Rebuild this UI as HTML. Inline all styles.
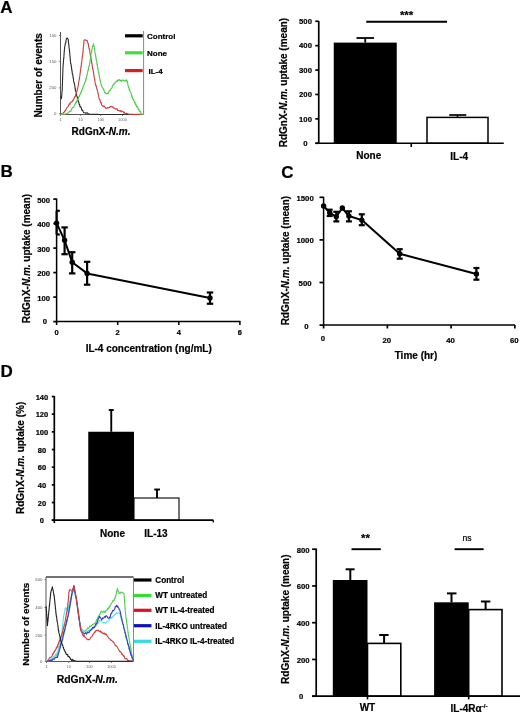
<!DOCTYPE html>
<html><head><meta charset="utf-8"><style>
html,body{margin:0;padding:0;background:#fff;}
body{width:520px;height:713px;overflow:hidden;}
svg{display:block;font-family:"Liberation Sans", sans-serif;filter:blur(0.3px);}
</style></head><body>
<svg width="520" height="713" viewBox="0 0 520 713">
<rect width="520" height="713" fill="#fff"/>
<text stroke="#000" stroke-width="0.2" x="0.2" y="12.8" font-size="17" font-weight="bold" text-anchor="start" fill="#000">A</text>
<text stroke="#000" stroke-width="0.2" x="0.6" y="177.1" font-size="17" font-weight="bold" text-anchor="start" fill="#000">B</text>
<text stroke="#000" stroke-width="0.2" x="281.2" y="177.5" font-size="17" font-weight="bold" text-anchor="start" fill="#000">C</text>
<text stroke="#000" stroke-width="0.2" x="0.6" y="376.8" font-size="17" font-weight="bold" text-anchor="start" fill="#000">D</text>
<line x1="60.5" y1="32" x2="60.5" y2="114.8" stroke="#555" stroke-width="1.0"/>
<line x1="60.5" y1="114.5" x2="143.6" y2="114.5" stroke="#555" stroke-width="1.0"/>
<line x1="143.6" y1="31" x2="143.6" y2="114.8" stroke="#888" stroke-width="1.0"/>
<line x1="58.8" y1="35.5" x2="60.5" y2="35.5" stroke="#666" stroke-width="0.8"/>
<text x="56.5" y="37.0" font-size="4.3" font-weight="normal" text-anchor="end" fill="#555">100</text>
<line x1="58.8" y1="61.4" x2="60.5" y2="61.4" stroke="#666" stroke-width="0.8"/>
<text x="56.5" y="62.9" font-size="4.3" font-weight="normal" text-anchor="end" fill="#555">150</text>
<line x1="58.8" y1="87.9" x2="60.5" y2="87.9" stroke="#666" stroke-width="0.8"/>
<text x="56.5" y="89.4" font-size="4.3" font-weight="normal" text-anchor="end" fill="#555">200</text>
<line x1="58.8" y1="113.8" x2="60.5" y2="113.8" stroke="#666" stroke-width="0.8"/>
<text x="56.5" y="115.3" font-size="4.3" font-weight="normal" text-anchor="end" fill="#555">0</text>
<line x1="60.5" y1="114.5" x2="60.5" y2="116" stroke="#666" stroke-width="0.8"/>
<text x="60.5" y="120.6" font-size="4" font-weight="normal" text-anchor="middle" fill="#666">1</text>
<line x1="80.75" y1="114.5" x2="80.75" y2="116" stroke="#666" stroke-width="0.8"/>
<text x="80.75" y="120.6" font-size="4" font-weight="normal" text-anchor="middle" fill="#666">10</text>
<line x1="100.75" y1="114.5" x2="100.75" y2="116" stroke="#666" stroke-width="0.8"/>
<text x="100.75" y="120.6" font-size="4" font-weight="normal" text-anchor="middle" fill="#666">100</text>
<line x1="122.5" y1="114.5" x2="122.5" y2="116" stroke="#666" stroke-width="0.8"/>
<text x="122.5" y="120.6" font-size="4" font-weight="normal" text-anchor="middle" fill="#666">1000</text>
<polyline points="60.7,96.7 61.0,97.0 61.2,98.6 61.5,98.2 61.5,98.5 61.6,97.5 61.6,96.4 61.7,96.6 61.7,95.1 61.8,95.2 61.8,93.9 61.9,93.4 61.9,93.4 61.9,93.5 62.0,91.6 62.0,91.2 62.1,91.3 62.1,91.3 62.2,90.0 62.2,89.0 62.3,89.5 62.3,87.2 62.3,88.0 62.3,86.4 62.4,85.6 62.4,84.9 62.4,84.7 62.4,85.0 62.4,83.2 62.5,83.3 62.5,82.9 62.5,81.8 62.5,81.5 62.5,80.0 62.6,79.4 62.6,79.1 62.6,79.3 62.6,78.3 62.6,77.5 62.7,77.4 62.7,76.5 62.7,75.6 62.7,75.9 62.7,75.2 62.8,73.7 62.8,73.7 62.8,73.0 62.8,73.1 62.8,72.2 62.9,70.8 62.9,71.5 62.9,69.3 62.9,69.3 62.9,69.3 63.0,67.6 63.0,67.6 63.0,66.2 63.0,66.7 63.1,66.3 63.1,65.3 63.2,65.3 63.2,63.7 63.3,63.8 63.4,63.0 63.4,62.3 63.5,61.5 63.5,61.6 63.5,61.2 63.6,59.8 63.6,59.5 63.7,57.8 63.8,58.4 63.8,57.7 63.9,57.7 63.9,56.8 64.0,55.2 64.0,54.8 64.1,54.7 64.1,52.9 64.2,53.1 64.2,52.0 64.3,51.3 64.3,50.6 64.4,51.3 64.4,49.5 64.5,49.1 64.5,48.8 64.6,49.1 64.6,47.0 64.7,47.1 64.7,46.7 64.8,46.7 65.0,46.0 65.1,45.5 65.2,43.8 65.4,43.4 65.5,42.7 65.7,43.1 65.9,42.5 66.0,40.4 66.2,39.8 66.3,39.2 66.5,38.5 67.3,38.0 67.6,38.8 67.9,38.9 68.2,39.1 68.3,40.5 68.4,41.0 68.4,42.0 68.5,43.3 68.6,43.4 68.7,43.7 68.7,44.5 68.8,45.2 68.9,44.7 69.0,46.9 69.0,47.3 69.1,48.1 69.2,48.5 69.3,48.4 69.3,49.1 69.4,49.1 69.4,50.7 69.5,50.3 69.5,50.9 69.6,51.8 69.7,52.3 69.7,53.3 69.8,53.4 69.8,53.9 69.9,54.8 69.9,55.3 70.0,56.4 70.1,56.4 70.1,58.6 70.2,58.7 70.2,58.5 70.3,59.3 70.3,60.1 70.4,60.8 70.5,60.9 70.6,62.9 70.7,63.8 70.8,63.4 70.9,64.1 71.0,64.0 71.1,64.7 71.2,65.7 71.3,66.2 71.4,67.8 71.5,67.3 71.6,67.6 71.7,69.9 71.8,69.8 71.9,69.7 72.0,71.1 72.1,70.7 72.2,72.3 72.3,73.7 72.4,74.1 72.5,74.4 72.6,74.2 72.8,75.0 72.9,75.2 73.0,76.9 73.1,77.1 73.2,78.1 73.3,77.9 73.4,78.3 73.5,80.0 73.6,80.9 73.7,81.3 73.8,81.8 74.0,82.5 74.1,82.9 74.2,82.6 74.3,83.8 74.4,84.1 74.5,84.2 74.7,84.8 74.8,85.9 74.9,86.4 75.0,87.8 75.1,88.9 75.3,88.6 75.4,90.1 75.5,90.9 75.7,91.4 75.8,91.0 76.0,91.3 76.1,92.0 76.2,92.5 76.4,93.1 76.5,94.5 76.7,95.6 76.8,96.1 77.0,96.1 77.2,97.0 77.3,97.9 77.5,97.2 77.6,98.9 77.8,99.9 78.0,100.3 78.1,100.8 78.3,101.0 78.5,101.0 78.7,102.8 78.9,102.6 79.1,104.0 79.4,105.0 79.6,104.5 79.8,105.2 80.0,106.8 80.2,107.0 80.6,106.7 81.0,107.2 81.3,107.9 81.7,109.9 82.1,110.4 82.5,109.9 83.2,111.8 83.8,112.7 84.5,112.8 85.2,112.9 85.9,113.4 86.6,112.8 87.3,112.8 87.9,113.8 88.6,113.9 89.3,114.1 90.0,114.2 90.6,114.2 91.2,114.2 91.9,114.3 92.5,114.3 93.1,114.3 93.8,114.3 94.4,114.3 95.0,114.3 95.6,114.4 96.2,114.4 96.9,114.4 97.5,114.4 98.1,114.4 98.8,114.5 99.4,114.5 100.0,114.5 100.6,114.5 101.2,114.5 101.8,114.5 102.4,114.5 103.0,114.5 103.6,114.5 104.2,114.5 104.8,114.5 105.5,114.5 106.1,114.5 106.7,114.5 107.3,114.5 107.9,114.5 108.5,114.5 109.1,114.5 109.7,114.5 110.3,114.5 110.9,114.5 111.5,114.5 112.1,114.5 112.7,114.5 113.3,114.5 113.9,114.5 114.5,114.5 115.1,114.5 115.7,114.5 116.4,114.5 117.0,114.5 117.6,114.5 118.2,114.5 118.8,114.5 119.4,114.5 120.0,114.5 120.6,114.5 121.2,114.5 121.8,114.5 122.4,114.5 123.0,114.5 123.6,114.5 124.2,114.5 124.8,114.5 125.4,114.5 126.0,114.5 126.6,114.5 127.3,114.5 127.9,114.5 128.5,114.5 129.1,114.5 129.7,114.5 130.3,114.5 130.9,114.5 131.5,114.5 132.1,114.5 132.7,114.5 133.3,114.5 133.9,114.5 134.5,114.5 135.1,114.5 135.7,114.5 136.3,114.5 136.9,114.5 137.5,114.5 138.2,114.5 138.8,114.5 139.4,114.5 140.0,114.5 140.6,114.5 141.2,114.5 141.8,114.5 142.4,114.5 143.0,114.5" fill="none" stroke="#2a2a2a" stroke-width="1.1" stroke-linejoin="round"/>
<polyline points="60.5,114.5 61.1,114.1 61.8,113.8 62.4,114.2 63.0,113.3 63.6,112.4 64.2,112.4 64.8,110.9 65.4,111.0 65.8,110.3 66.3,108.5 66.7,108.0 67.1,107.4 67.6,106.7 68.0,106.7 68.5,105.4 69.0,105.0 69.4,103.7 69.9,104.4 70.4,102.7 70.9,102.3 71.4,102.0 72.0,101.9 72.5,100.5 73.0,100.8 73.5,99.3 73.9,98.7 74.4,98.1 74.8,96.5 75.3,96.6 75.5,95.5 75.7,94.6 75.8,95.4 76.0,93.6 76.2,93.5 76.4,93.4 76.5,92.5 76.7,91.4 76.9,91.1 77.1,90.6 77.3,90.4 77.4,88.5 77.6,88.7 77.8,87.5 77.9,87.0 78.0,87.3 78.1,86.2 78.2,85.7 78.3,85.4 78.4,85.1 78.5,83.6 78.6,83.3 78.7,82.5 78.8,81.9 78.9,81.6 79.0,80.6 79.1,80.1 79.2,79.4 79.3,79.6 79.4,78.6 79.5,78.3 79.6,77.8 79.7,75.9 79.8,75.9 79.9,75.9 80.0,75.1 80.1,73.3 80.2,72.6 80.3,72.6 80.4,71.3 80.4,71.0 80.5,70.1 80.6,70.6 80.7,70.2 80.7,69.8 80.8,67.8 80.9,68.2 81.0,67.5 81.0,66.0 81.1,66.7 81.2,66.3 81.3,64.3 81.3,65.0 81.4,63.4 81.5,63.0 81.6,63.2 81.7,62.3 81.8,60.5 81.9,60.3 82.0,59.8 82.1,58.9 82.1,58.0 82.2,57.6 82.3,57.7 82.4,55.8 82.5,56.1 82.6,55.2 82.7,53.8 82.8,53.8 82.8,53.7 82.9,52.9 82.9,51.4 83.0,52.5 83.1,51.5 83.1,51.2 83.2,49.0 83.2,48.7 83.3,47.6 83.3,48.4 83.4,46.8 83.5,45.9 83.5,45.8 83.6,46.1 83.6,45.3 83.7,43.7 83.8,42.9 83.8,43.6 83.9,42.4 83.9,42.0 84.0,40.3 84.9,39.7 85.8,40.2 86.4,40.4 87.1,40.3 87.7,42.5 87.8,42.6 88.0,43.5 88.1,42.9 88.3,44.9 88.4,44.1 88.5,46.2 88.7,46.1 88.8,46.5 88.9,47.5 89.1,48.9 89.2,48.3 89.4,48.7 89.5,50.0 89.6,50.1 89.7,50.5 89.8,51.2 89.9,51.6 90.0,52.5 90.1,53.3 90.2,53.9 90.3,55.4 90.5,55.1 90.6,56.1 90.7,56.1 90.8,57.1 90.9,57.1 91.0,58.1 91.1,58.3 91.2,60.2 91.3,60.5 91.4,60.4 91.5,61.6 91.6,63.0 91.7,62.2 91.9,64.1 92.0,64.0 92.1,64.7 92.2,66.0 92.3,65.8 92.4,66.6 92.5,67.6 92.6,68.7 92.8,68.2 92.9,69.7 93.0,70.1 93.1,70.6 93.2,70.8 93.3,71.3 93.4,71.4 93.5,72.2 93.6,72.7 93.7,74.5 93.8,74.2 93.9,74.7 94.0,75.1 94.1,77.1 94.2,77.8 94.3,78.0 94.4,77.9 94.5,78.5 94.6,79.2 94.7,80.1 94.8,80.2 94.9,81.3 95.0,81.6 95.2,83.5 95.3,84.1 95.5,84.0 95.7,84.0 95.8,86.0 96.0,85.4 96.2,86.1 96.3,86.1 96.5,87.4 96.7,88.2 96.8,88.9 97.0,89.0 97.2,90.1 97.3,89.8 97.5,90.9 97.6,91.2 97.8,92.3 97.9,92.3 98.0,92.8 98.2,93.9 98.3,94.4 98.5,95.7 98.6,96.2 98.8,97.2 99.0,97.6 99.2,98.4 99.4,99.4 99.7,99.2 99.9,99.7 100.1,101.5 100.3,100.7 100.5,102.4 100.8,102.9 101.2,102.5 101.5,104.6 101.9,105.3 102.2,105.5 102.8,106.1 103.4,106.7 104.1,105.9 104.7,107.0 105.3,107.4 105.9,108.4 106.5,108.2 107.1,108.1 107.8,107.5 108.4,107.9 109.0,107.3 109.6,107.4 110.2,106.7 110.8,106.4 111.5,106.6 112.1,107.1 112.7,106.7 113.3,108.1 113.9,107.9 114.5,108.4 115.1,108.7 115.8,109.2 116.4,109.2 117.0,108.6 117.6,110.4 118.2,110.6 118.8,110.5 119.4,110.8 120.1,111.2 120.7,110.4 121.3,111.9 121.9,111.3 122.5,111.2 123.2,111.8 123.8,112.9 124.4,112.2 125.0,113.3 125.6,114.0 126.2,113.3 126.9,113.3 127.5,113.7 128.1,113.9 128.7,114.1 129.3,114.3 129.9,114.3 130.5,114.3 131.2,114.3 131.8,114.3 132.4,114.3 133.0,114.4 133.7,114.4 134.3,114.4 134.9,114.4 135.5,114.4 136.2,114.4 136.8,114.4 137.4,114.4 138.0,114.4 138.6,114.4 139.3,114.4 139.9,114.5 140.5,114.5 141.1,114.5 141.8,114.5 142.4,114.5 143.0,114.5" fill="none" stroke="#cc3c3c" stroke-width="1.1" stroke-linejoin="round"/>
<polyline points="60.5,114.5 61.1,114.5 61.8,114.4 62.4,114.4 63.1,114.3 63.7,114.3 64.4,114.2 65.0,114.2 65.6,113.9 66.2,113.6 66.8,113.7 67.4,113.5 68.0,113.0 68.6,112.7 69.2,111.4 69.8,111.3 70.4,111.2 70.8,111.4 71.2,110.0 71.6,109.8 72.0,108.2 72.4,107.6 72.8,107.4 73.3,107.5 73.7,106.9 74.1,106.2 74.5,104.9 74.9,104.7 75.3,103.9 75.6,103.3 75.9,102.1 76.2,102.9 76.5,101.0 76.8,101.8 77.1,101.1 77.4,98.9 77.8,99.1 78.1,99.1 78.4,98.8 78.7,97.2 79.0,96.3 79.3,95.6 79.6,96.3 79.9,94.4 80.2,94.4 80.5,93.0 80.7,93.1 81.0,93.2 81.2,91.1 81.5,91.7 81.7,90.4 82.0,90.5 82.2,89.5 82.5,88.0 82.8,88.6 83.0,87.2 83.3,85.7 83.6,85.0 83.8,85.2 84.1,84.5 84.4,83.6 84.7,82.7 84.9,82.4 85.2,81.7 85.4,82.0 85.5,79.8 85.7,80.5 85.9,80.1 86.0,78.1 86.2,78.9 86.3,77.9 86.5,77.6 86.7,75.9 86.8,75.4 87.0,74.8 87.1,75.3 87.3,73.9 87.4,72.9 87.6,72.4 87.7,71.5 87.9,70.5 88.0,70.0 88.2,70.7 88.3,69.1 88.5,69.6 88.6,67.8 88.8,67.2 88.9,67.0 89.0,65.8 89.1,65.5 89.3,65.9 89.4,65.1 89.5,64.4 89.6,63.4 89.7,63.3 89.8,62.7 90.0,61.4 90.1,61.0 90.2,59.2 90.3,59.8 90.4,58.6 90.5,58.5 90.6,57.7 90.7,56.4 90.8,55.3 90.9,56.2 91.0,54.1 91.1,54.1 91.2,53.2 91.3,52.5 91.4,52.6 91.5,52.4 91.7,50.5 91.8,50.5 92.0,49.2 92.1,49.1 92.2,48.1 92.4,47.1 92.5,46.4 92.8,45.8 93.0,46.3 93.3,44.9 93.6,43.7 93.7,45.6 93.8,46.4 93.9,46.0 94.0,46.1 94.2,46.8 94.3,47.3 94.4,48.4 94.5,48.5 94.6,49.4 94.7,50.1 94.8,51.3 94.9,52.5 95.1,52.9 95.2,52.9 95.3,53.6 95.4,54.4 95.5,54.8 95.6,55.3 95.7,55.4 95.8,56.4 95.9,58.2 96.0,57.3 96.1,58.6 96.2,59.4 96.3,60.5 96.4,59.9 96.5,60.6 96.7,61.1 96.8,62.0 96.9,62.7 97.0,64.2 97.1,64.6 97.2,65.3 97.3,64.3 97.4,65.0 97.5,66.8 97.6,67.7 97.7,67.6 97.8,68.4 98.0,68.0 98.1,69.3 98.2,70.9 98.3,71.3 98.4,72.0 98.5,72.9 98.7,72.2 98.8,72.5 98.9,73.3 99.0,74.5 99.1,75.5 99.3,76.5 99.4,76.8 99.5,77.3 99.6,78.1 99.8,78.2 99.9,78.9 100.0,78.6 100.1,80.6 100.3,80.2 100.4,82.1 100.5,82.2 100.7,82.2 100.8,82.5 100.9,83.3 101.0,84.6 101.2,85.3 101.3,84.9 101.6,85.4 102.0,86.9 102.3,87.6 102.6,87.8 102.9,88.2 103.3,89.4 103.6,89.0 103.9,90.1 104.3,91.0 104.6,92.5 105.2,92.6 105.8,93.6 106.5,93.5 107.1,93.7 107.6,93.1 108.0,93.8 108.5,92.7 108.9,91.4 109.4,90.3 109.9,90.5 110.3,90.2 110.8,89.2 111.2,88.2 111.5,88.3 111.9,88.2 112.3,86.3 112.7,85.3 113.0,85.2 113.4,84.7 113.8,84.6 114.1,83.1 114.5,83.5 115.1,82.9 115.7,82.0 116.3,81.0 117.0,81.8 117.6,80.2 118.2,80.6 118.8,79.6 119.4,79.7 120.1,80.8 120.7,80.0 121.3,81.3 121.9,80.6 122.5,80.0 123.2,80.1 123.8,80.5 124.4,80.9 125.0,81.4 125.7,80.0 126.3,80.4 126.9,80.1 127.1,82.1 127.2,81.2 127.4,81.7 127.6,82.3 127.8,83.5 127.9,85.0 128.1,85.6 128.3,86.0 128.4,87.1 128.6,87.6 128.8,87.1 129.0,87.5 129.1,89.5 129.3,89.7 129.5,89.1 129.8,90.8 130.0,90.9 130.2,91.5 130.5,92.1 130.7,92.4 130.9,92.7 131.2,93.8 131.4,94.5 131.6,96.2 131.8,95.4 132.1,97.5 132.3,96.7 132.5,97.6 132.8,99.1 133.0,99.7 133.3,99.6 133.6,99.5 133.9,100.9 134.2,101.3 134.5,102.9 134.8,102.2 135.2,103.2 135.5,104.7 135.8,103.8 136.1,105.1 136.4,106.4 136.7,107.0 137.1,106.3 137.5,106.9 137.9,107.6 138.4,109.8 138.8,109.2 139.2,110.7 139.6,111.6 140.0,111.2 140.4,111.7 140.9,113.6 141.3,113.6 141.7,114.0 142.3,114.2 143.0,114.3 143.6,114.5" fill="none" stroke="#48cc48" stroke-width="1.1" stroke-linejoin="round"/>
<line x1="125" y1="35.8" x2="142.7" y2="35.8" stroke="#000" stroke-width="3.2"/>
<line x1="125" y1="52.8" x2="142.7" y2="52.8" stroke="#3ee03e" stroke-width="3.2"/>
<line x1="125" y1="70.6" x2="142.7" y2="70.6" stroke="#d81e1e" stroke-width="3.2"/>
<text stroke="#000" stroke-width="0.2" x="147" y="38.8" font-size="8" font-weight="bold" text-anchor="start" fill="#000">Control</text>
<text stroke="#000" stroke-width="0.2" x="147" y="55.8" font-size="8" font-weight="bold" text-anchor="start" fill="#000">None</text>
<text stroke="#000" stroke-width="0.2" x="148.5" y="73.6" font-size="8" font-weight="bold" text-anchor="start" fill="#000">IL-4</text>
<text stroke="#000" stroke-width="0.2" x="38.8" y="75.4" font-size="10" font-weight="bold" text-anchor="middle" transform="rotate(-90 38.8 75.4) translate(0 3.6)">Number of events</text>
<text stroke="#000" stroke-width="0.2" x="101" y="135" font-size="10" font-weight="bold" text-anchor="middle">RdGnX-<tspan font-style="italic">N.m.</tspan></text>
<rect x="333.75" y="42.6" width="63" height="100.65" fill="#000" stroke="none" stroke-width="0"/>
<line x1="365.25" y1="42.6" x2="365.25" y2="38" stroke="#000" stroke-width="1.8"/>
<line x1="356.5" y1="38" x2="374" y2="38" stroke="#000" stroke-width="1.8"/>
<rect x="427" y="117.4" width="61" height="25.849999999999994" fill="#fff" stroke="#000" stroke-width="1.5"/>
<line x1="457.5" y1="117.4" x2="457.5" y2="115" stroke="#000" stroke-width="1.6"/>
<line x1="449.25" y1="115" x2="466.25" y2="115" stroke="#000" stroke-width="1.7"/>
<line x1="318.75" y1="21" x2="318.75" y2="144" stroke="#000" stroke-width="1.7"/>
<line x1="315.3" y1="143.25" x2="503.75" y2="143.25" stroke="#000" stroke-width="1.7"/>
<line x1="315.3" y1="143.25" x2="318.75" y2="143.25" stroke="#000" stroke-width="1.7"/>
<text stroke="#000" stroke-width="0.2" x="305.3" y="145.95" font-size="7.7" font-weight="bold" text-anchor="middle" fill="#000">0</text>
<line x1="315.3" y1="118.85" x2="318.75" y2="118.85" stroke="#000" stroke-width="1.7"/>
<text stroke="#000" stroke-width="0.2" x="305.5" y="121.55" font-size="7.7" font-weight="bold" text-anchor="middle" fill="#000">100</text>
<line x1="315.3" y1="94.45" x2="318.75" y2="94.45" stroke="#000" stroke-width="1.7"/>
<text stroke="#000" stroke-width="0.2" x="305.5" y="97.15" font-size="7.7" font-weight="bold" text-anchor="middle" fill="#000">200</text>
<line x1="315.3" y1="70.05000000000001" x2="318.75" y2="70.05000000000001" stroke="#000" stroke-width="1.7"/>
<text stroke="#000" stroke-width="0.2" x="305.5" y="72.75000000000001" font-size="7.7" font-weight="bold" text-anchor="middle" fill="#000">300</text>
<line x1="315.3" y1="45.650000000000006" x2="318.75" y2="45.650000000000006" stroke="#000" stroke-width="1.7"/>
<text stroke="#000" stroke-width="0.2" x="305.5" y="48.35000000000001" font-size="7.7" font-weight="bold" text-anchor="middle" fill="#000">400</text>
<line x1="315.3" y1="21.25" x2="318.75" y2="21.25" stroke="#000" stroke-width="1.7"/>
<text stroke="#000" stroke-width="0.2" x="305.5" y="23.95" font-size="7.7" font-weight="bold" text-anchor="middle" fill="#000">500</text>
<line x1="411.25" y1="143.25" x2="411.25" y2="147" stroke="#000" stroke-width="1.6"/>
<line x1="366.25" y1="21.7" x2="447" y2="21.7" stroke="#000" stroke-width="1.9"/>
<text stroke="#000" stroke-width="0.2" x="406.6" y="19.0" font-size="11.5" font-weight="bold" text-anchor="middle" fill="#000">***</text>
<text stroke="#000" stroke-width="0.2" x="368.75" y="159.3" font-size="10" font-weight="bold" text-anchor="middle" fill="#000">None</text>
<text stroke="#000" stroke-width="0.2" x="459.2" y="159.5" font-size="10" font-weight="bold" text-anchor="middle" fill="#000">IL-4</text>
<text stroke="#000" stroke-width="0.2" x="287.0" y="82.6" font-size="10" font-weight="bold" text-anchor="middle" transform="rotate(-90 287.0 82.6)">RdGnX-<tspan font-style="italic">N.m.</tspan> uptake (mean)</text>
<line x1="56.6" y1="198.5" x2="56.6" y2="322.3" stroke="#000" stroke-width="1.5"/>
<line x1="55.85" y1="321.6" x2="240.5" y2="321.6" stroke="#000" stroke-width="1.5"/>
<line x1="53.3" y1="321.6" x2="56.6" y2="321.6" stroke="#000" stroke-width="1.7"/>
<text stroke="#000" stroke-width="0.2" x="44.8" y="324.0" font-size="7.7" font-weight="bold" text-anchor="middle" fill="#000">0</text>
<line x1="53.3" y1="297.1" x2="56.6" y2="297.1" stroke="#000" stroke-width="1.7"/>
<text stroke="#000" stroke-width="0.2" x="43.7" y="300.5" font-size="7.7" font-weight="bold" text-anchor="middle" fill="#000">100</text>
<line x1="53.3" y1="272.6" x2="56.6" y2="272.6" stroke="#000" stroke-width="1.7"/>
<text stroke="#000" stroke-width="0.2" x="43.7" y="276.0" font-size="7.7" font-weight="bold" text-anchor="middle" fill="#000">200</text>
<line x1="53.3" y1="248.10000000000002" x2="56.6" y2="248.10000000000002" stroke="#000" stroke-width="1.7"/>
<text stroke="#000" stroke-width="0.2" x="43.7" y="251.50000000000003" font-size="7.7" font-weight="bold" text-anchor="middle" fill="#000">300</text>
<line x1="53.3" y1="223.60000000000002" x2="56.6" y2="223.60000000000002" stroke="#000" stroke-width="1.7"/>
<text stroke="#000" stroke-width="0.2" x="43.7" y="227.00000000000003" font-size="7.7" font-weight="bold" text-anchor="middle" fill="#000">400</text>
<line x1="53.3" y1="199.10000000000002" x2="56.6" y2="199.10000000000002" stroke="#000" stroke-width="1.7"/>
<text stroke="#000" stroke-width="0.2" x="43.7" y="202.50000000000003" font-size="7.7" font-weight="bold" text-anchor="middle" fill="#000">500</text>
<line x1="56.6" y1="321.6" x2="56.6" y2="325" stroke="#000" stroke-width="1.5"/>
<text stroke="#000" stroke-width="0.2" x="56.6" y="335" font-size="7.5" font-weight="bold" text-anchor="middle" fill="#000">0</text>
<line x1="117.7" y1="321.6" x2="117.7" y2="325" stroke="#000" stroke-width="1.5"/>
<text stroke="#000" stroke-width="0.2" x="117.7" y="335" font-size="7.5" font-weight="bold" text-anchor="middle" fill="#000">2</text>
<line x1="178.8" y1="321.6" x2="178.8" y2="325" stroke="#000" stroke-width="1.5"/>
<text stroke="#000" stroke-width="0.2" x="178.8" y="335" font-size="7.5" font-weight="bold" text-anchor="middle" fill="#000">4</text>
<line x1="239.9" y1="321.6" x2="239.9" y2="325" stroke="#000" stroke-width="1.5"/>
<text stroke="#000" stroke-width="0.2" x="239.9" y="335" font-size="7.5" font-weight="bold" text-anchor="middle" fill="#000">6</text>
<polyline points="56.6,223.1 64.6,240.3 72.2,262.3 87.1,273.4 210.0,298.0" fill="none" stroke="#000" stroke-width="2.0" stroke-linejoin="round"/>
<line x1="56.6" y1="210.8" x2="56.6" y2="234.5" stroke="#000" stroke-width="2.2"/>
<line x1="56.1" y1="210.8" x2="59.800000000000004" y2="210.8" stroke="#000" stroke-width="2.2"/>
<line x1="56.1" y1="234.5" x2="59.800000000000004" y2="234.5" stroke="#000" stroke-width="2.2"/>
<circle cx="56.6" cy="223.1" r="2.7" fill="#000"/>
<line x1="64.6" y1="227.4" x2="64.6" y2="254.2" stroke="#000" stroke-width="2.2"/>
<line x1="61.39999999999999" y1="227.4" x2="67.8" y2="227.4" stroke="#000" stroke-width="2.2"/>
<line x1="61.39999999999999" y1="254.2" x2="67.8" y2="254.2" stroke="#000" stroke-width="2.2"/>
<circle cx="64.6" cy="240.3" r="2.7" fill="#000"/>
<line x1="72.2" y1="252.2" x2="72.2" y2="273.4" stroke="#000" stroke-width="2.2"/>
<line x1="69.0" y1="252.2" x2="75.4" y2="252.2" stroke="#000" stroke-width="2.2"/>
<line x1="69.0" y1="273.4" x2="75.4" y2="273.4" stroke="#000" stroke-width="2.2"/>
<circle cx="72.2" cy="262.3" r="2.7" fill="#000"/>
<line x1="87.1" y1="261.8" x2="87.1" y2="284.7" stroke="#000" stroke-width="2.2"/>
<line x1="83.89999999999999" y1="261.8" x2="90.3" y2="261.8" stroke="#000" stroke-width="2.2"/>
<line x1="83.89999999999999" y1="284.7" x2="90.3" y2="284.7" stroke="#000" stroke-width="2.2"/>
<circle cx="87.1" cy="273.4" r="2.7" fill="#000"/>
<line x1="210" y1="292.5" x2="210" y2="303.75" stroke="#000" stroke-width="2.2"/>
<line x1="206.8" y1="292.5" x2="213.2" y2="292.5" stroke="#000" stroke-width="2.2"/>
<line x1="206.8" y1="303.75" x2="213.2" y2="303.75" stroke="#000" stroke-width="2.2"/>
<circle cx="210" cy="298" r="2.7" fill="#000"/>
<text stroke="#000" stroke-width="0.2" x="30.1" y="258.6" font-size="10" font-weight="bold" text-anchor="middle" transform="rotate(-90 30.1 258.6)">RdGnX-<tspan font-style="italic">N.m.</tspan> uptake (mean)</text>
<text stroke="#000" stroke-width="0.2" x="148.7" y="352.3" font-size="10" font-weight="bold" text-anchor="middle" fill="#000">IL-4 concentration (ng/mL)</text>
<line x1="323.6" y1="196.8" x2="323.6" y2="325.8" stroke="#000" stroke-width="1.5"/>
<line x1="322.85" y1="325.1" x2="515" y2="325.1" stroke="#000" stroke-width="1.5"/>
<line x1="319.5" y1="325.1" x2="323.6" y2="325.1" stroke="#000" stroke-width="1.7"/>
<text stroke="#000" stroke-width="0.2" x="306.4" y="328.5" font-size="7.8" font-weight="bold" text-anchor="middle" fill="#000">0</text>
<line x1="319.5" y1="282.5" x2="323.6" y2="282.5" stroke="#000" stroke-width="1.7"/>
<text stroke="#000" stroke-width="0.2" x="305.1" y="285.9" font-size="7.8" font-weight="bold" text-anchor="middle" fill="#000">500</text>
<line x1="319.5" y1="239.90000000000003" x2="323.6" y2="239.90000000000003" stroke="#000" stroke-width="1.7"/>
<text stroke="#000" stroke-width="0.2" x="305.1" y="243.30000000000004" font-size="7.8" font-weight="bold" text-anchor="middle" fill="#000">1000</text>
<line x1="319.5" y1="197.3" x2="323.6" y2="197.3" stroke="#000" stroke-width="1.7"/>
<text stroke="#000" stroke-width="0.2" x="305.1" y="200.70000000000002" font-size="7.8" font-weight="bold" text-anchor="middle" fill="#000">1500</text>
<line x1="323.6" y1="325.1" x2="323.6" y2="328.5" stroke="#000" stroke-width="1.7"/>
<text stroke="#000" stroke-width="0.2" x="322.8" y="341.3" font-size="7.8" font-weight="bold" text-anchor="middle" fill="#000">0</text>
<line x1="387.35" y1="325.1" x2="387.35" y2="328.5" stroke="#000" stroke-width="1.7"/>
<text stroke="#000" stroke-width="0.2" x="386.85" y="343.2" font-size="7.8" font-weight="bold" text-anchor="middle" fill="#000">20</text>
<line x1="451.1" y1="325.1" x2="451.1" y2="328.5" stroke="#000" stroke-width="1.7"/>
<text stroke="#000" stroke-width="0.2" x="450.6" y="343.2" font-size="7.8" font-weight="bold" text-anchor="middle" fill="#000">40</text>
<line x1="514.85" y1="325.1" x2="514.85" y2="328.5" stroke="#000" stroke-width="1.7"/>
<text stroke="#000" stroke-width="0.2" x="514.35" y="343.2" font-size="7.8" font-weight="bold" text-anchor="middle" fill="#000">60</text>
<polyline points="323.6,206.0 329.7,212.7 336.3,216.8 342.3,208.0 348.9,216.0 361.8,220.1 399.7,253.8 476.4,274.0" fill="none" stroke="#000" stroke-width="2.0" stroke-linejoin="round"/>
<circle cx="323.6" cy="206.0" r="2.7" fill="#000"/>
<line x1="329.7" y1="209.7" x2="329.7" y2="216.0" stroke="#000" stroke-width="2.2"/>
<line x1="326.7" y1="209.7" x2="332.7" y2="209.7" stroke="#000" stroke-width="2.2"/>
<line x1="326.7" y1="216.0" x2="332.7" y2="216.0" stroke="#000" stroke-width="2.2"/>
<circle cx="329.7" cy="212.7" r="2.7" fill="#000"/>
<line x1="336.3" y1="211.8" x2="336.3" y2="221.4" stroke="#000" stroke-width="2.2"/>
<line x1="333.3" y1="211.8" x2="339.3" y2="211.8" stroke="#000" stroke-width="2.2"/>
<line x1="333.3" y1="221.4" x2="339.3" y2="221.4" stroke="#000" stroke-width="2.2"/>
<circle cx="336.3" cy="216.8" r="2.7" fill="#000"/>
<circle cx="342.3" cy="208.0" r="2.7" fill="#000"/>
<line x1="348.9" y1="211.3" x2="348.9" y2="221.4" stroke="#000" stroke-width="2.2"/>
<line x1="345.9" y1="211.3" x2="351.9" y2="211.3" stroke="#000" stroke-width="2.2"/>
<line x1="345.9" y1="221.4" x2="351.9" y2="221.4" stroke="#000" stroke-width="2.2"/>
<circle cx="348.9" cy="216" r="2.7" fill="#000"/>
<line x1="361.8" y1="214.3" x2="361.8" y2="225.2" stroke="#000" stroke-width="2.2"/>
<line x1="358.8" y1="214.3" x2="364.8" y2="214.3" stroke="#000" stroke-width="2.2"/>
<line x1="358.8" y1="225.2" x2="364.8" y2="225.2" stroke="#000" stroke-width="2.2"/>
<circle cx="361.8" cy="220.1" r="2.7" fill="#000"/>
<line x1="399.7" y1="249.2" x2="399.7" y2="258.7" stroke="#000" stroke-width="2.2"/>
<line x1="396.7" y1="249.2" x2="402.7" y2="249.2" stroke="#000" stroke-width="2.2"/>
<line x1="396.7" y1="258.7" x2="402.7" y2="258.7" stroke="#000" stroke-width="2.2"/>
<circle cx="399.7" cy="253.8" r="2.7" fill="#000"/>
<line x1="476.4" y1="268" x2="476.4" y2="279.7" stroke="#000" stroke-width="2.2"/>
<line x1="473.4" y1="268" x2="479.4" y2="268" stroke="#000" stroke-width="2.2"/>
<line x1="473.4" y1="279.7" x2="479.4" y2="279.7" stroke="#000" stroke-width="2.2"/>
<circle cx="476.4" cy="274" r="2.7" fill="#000"/>
<text stroke="#000" stroke-width="0.2" x="288.7" y="260.6" font-size="10" font-weight="bold" text-anchor="middle" transform="rotate(-90 288.7 260.6)">RdGnX-<tspan font-style="italic">N.m.</tspan> uptake (mean)</text>
<text stroke="#000" stroke-width="0.2" x="416" y="359.2" font-size="10" font-weight="bold" text-anchor="middle" fill="#000">Time (hr)</text>
<rect x="88.25" y="431.75" width="45.75" height="88.45000000000005" fill="#000" stroke="none" stroke-width="0"/>
<line x1="111.25" y1="431.75" x2="111.25" y2="410" stroke="#000" stroke-width="1.9"/>
<line x1="108.75" y1="410" x2="113.75" y2="410" stroke="#000" stroke-width="1.9"/>
<rect x="134" y="498" width="45" height="22.200000000000045" fill="#fff" stroke="#000" stroke-width="1.1"/>
<line x1="157" y1="498" x2="157" y2="489.5" stroke="#000" stroke-width="1.9"/>
<line x1="154.25" y1="489.5" x2="160" y2="489.5" stroke="#000" stroke-width="1.9"/>
<line x1="54.3" y1="396" x2="54.3" y2="523" stroke="#000" stroke-width="1.7"/>
<line x1="51.8" y1="520.2" x2="213.3" y2="520.2" stroke="#000" stroke-width="1.7"/>
<line x1="213.3" y1="520.2" x2="213.3" y2="522.6" stroke="#000" stroke-width="1.3"/>
<line x1="51.8" y1="520.2" x2="54.3" y2="520.2" stroke="#000" stroke-width="1.7"/>
<text stroke="#000" stroke-width="0.2" x="41.9" y="523.4000000000001" font-size="7.5" font-weight="bold" text-anchor="middle" fill="#000">0</text>
<line x1="51.8" y1="502.53000000000003" x2="54.3" y2="502.53000000000003" stroke="#000" stroke-width="1.7"/>
<text stroke="#000" stroke-width="0.2" x="41.9" y="505.73" font-size="7.5" font-weight="bold" text-anchor="middle" fill="#000">20</text>
<line x1="51.8" y1="484.86" x2="54.3" y2="484.86" stroke="#000" stroke-width="1.7"/>
<text stroke="#000" stroke-width="0.2" x="41.9" y="488.06" font-size="7.5" font-weight="bold" text-anchor="middle" fill="#000">40</text>
<line x1="51.8" y1="467.19000000000005" x2="54.3" y2="467.19000000000005" stroke="#000" stroke-width="1.7"/>
<text stroke="#000" stroke-width="0.2" x="41.9" y="470.39000000000004" font-size="7.5" font-weight="bold" text-anchor="middle" fill="#000">60</text>
<line x1="51.8" y1="449.52000000000004" x2="54.3" y2="449.52000000000004" stroke="#000" stroke-width="1.7"/>
<text stroke="#000" stroke-width="0.2" x="41.9" y="452.72" font-size="7.5" font-weight="bold" text-anchor="middle" fill="#000">80</text>
<line x1="51.8" y1="431.85" x2="54.3" y2="431.85" stroke="#000" stroke-width="1.7"/>
<text stroke="#000" stroke-width="0.2" x="41.9" y="435.05" font-size="7.5" font-weight="bold" text-anchor="middle" fill="#000">100</text>
<line x1="51.8" y1="414.18000000000006" x2="54.3" y2="414.18000000000006" stroke="#000" stroke-width="1.7"/>
<text stroke="#000" stroke-width="0.2" x="41.9" y="417.38000000000005" font-size="7.5" font-weight="bold" text-anchor="middle" fill="#000">120</text>
<line x1="51.8" y1="396.51000000000005" x2="54.3" y2="396.51000000000005" stroke="#000" stroke-width="1.7"/>
<text stroke="#000" stroke-width="0.2" x="41.9" y="399.71000000000004" font-size="7.5" font-weight="bold" text-anchor="middle" fill="#000">140</text>
<text stroke="#000" stroke-width="0.2" x="112.5" y="536.8" font-size="10" font-weight="bold" text-anchor="middle" fill="#000">None</text>
<text stroke="#000" stroke-width="0.2" x="156" y="536.8" font-size="10" font-weight="bold" text-anchor="middle" fill="#000">IL-13</text>
<text stroke="#000" stroke-width="0.2" x="24.0" y="457.9" font-size="10" font-weight="bold" text-anchor="middle" transform="rotate(-90 24.0 457.9)">RdGnX-<tspan font-style="italic">N.m.</tspan> uptake (%)</text>
<line x1="46" y1="577" x2="133.5" y2="577" stroke="#444" stroke-width="1.5"/>
<line x1="46" y1="577" x2="46" y2="661.5" stroke="#555" stroke-width="1.0"/>
<line x1="46" y1="661.5" x2="133.5" y2="661.5" stroke="#555" stroke-width="1.0"/>
<line x1="133.5" y1="577" x2="133.5" y2="661.5" stroke="#888" stroke-width="1.0"/>
<line x1="44.5" y1="579.5" x2="46" y2="579.5" stroke="#666" stroke-width="0.8"/>
<text x="42.5" y="581.0" font-size="4.3" font-weight="normal" text-anchor="end" fill="#555">600</text>
<line x1="44.5" y1="607.5" x2="46" y2="607.5" stroke="#666" stroke-width="0.8"/>
<text x="42.5" y="609.0" font-size="4.3" font-weight="normal" text-anchor="end" fill="#555">400</text>
<line x1="44.5" y1="635" x2="46" y2="635" stroke="#666" stroke-width="0.8"/>
<text x="42.5" y="636.5" font-size="4.3" font-weight="normal" text-anchor="end" fill="#555">200</text>
<line x1="44.5" y1="661.5" x2="46" y2="661.5" stroke="#666" stroke-width="0.8"/>
<text x="42.5" y="663.0" font-size="4.3" font-weight="normal" text-anchor="end" fill="#555">0</text>
<line x1="46.5" y1="661.5" x2="46.5" y2="663" stroke="#666" stroke-width="0.8"/>
<text x="46.5" y="667.6" font-size="4" font-weight="normal" text-anchor="middle" fill="#666">1</text>
<line x1="68.75" y1="661.5" x2="68.75" y2="663" stroke="#666" stroke-width="0.8"/>
<text x="68.75" y="667.6" font-size="4" font-weight="normal" text-anchor="middle" fill="#666">10</text>
<line x1="89.5" y1="661.5" x2="89.5" y2="663" stroke="#666" stroke-width="0.8"/>
<text x="89.5" y="667.6" font-size="4" font-weight="normal" text-anchor="middle" fill="#666">100</text>
<line x1="111.5" y1="661.5" x2="111.5" y2="663" stroke="#666" stroke-width="0.8"/>
<text x="111.5" y="667.6" font-size="4" font-weight="normal" text-anchor="middle" fill="#666">1000</text>
<polyline points="47.0,661.2 47.6,661.1 48.2,660.9 48.9,660.8 49.5,660.6 50.1,660.5 50.8,659.9 51.4,660.5 52.0,659.7 52.6,659.0 53.2,658.0 53.8,658.8 54.4,658.5 55.1,657.5 55.7,657.5 56.3,655.3 56.9,655.1 57.5,655.0 57.7,655.2 57.9,654.6 58.1,653.0 58.3,652.1 58.5,651.8 58.7,651.3 58.9,651.5 59.1,649.6 59.3,650.1 59.5,649.3 59.7,648.9 60.0,648.2 60.2,647.3 60.4,646.2 60.6,645.5 60.8,645.0 61.0,645.2 61.2,643.3 61.4,642.9 61.6,643.3 61.8,641.8 62.0,640.8 62.2,640.2 62.3,640.5 62.5,639.5 62.6,640.0 62.8,639.3 62.9,638.8 63.1,636.9 63.2,636.0 63.4,635.4 63.5,635.5 63.7,635.3 63.8,634.2 64.0,633.2 64.1,632.9 64.3,632.7 64.4,632.2 64.6,631.7 64.7,631.3 64.9,630.3 65.0,628.8 65.2,629.4 65.3,627.8 65.5,627.7 65.6,626.8 65.7,626.8 65.9,625.3 66.0,624.7 66.1,624.1 66.3,623.4 66.4,624.1 66.6,622.9 66.7,621.9 66.8,621.4 67.0,621.9 67.1,620.4 67.2,619.3 67.4,619.8 67.5,618.9 67.6,618.9 67.8,616.7 67.9,616.8 68.0,616.8 68.2,616.2 68.3,615.7 68.5,613.6 68.6,613.4 68.7,612.5 68.9,612.0 69.0,612.9 69.1,611.5 69.2,611.5 69.3,609.9 69.4,610.2 69.5,608.8 69.6,607.9 69.7,608.2 69.8,607.9 69.9,605.8 70.0,606.0 70.1,605.4 70.2,604.1 70.3,603.8 70.5,602.7 70.6,602.2 70.7,601.7 70.8,601.7 70.9,601.2 71.0,599.8 71.1,598.8 71.2,598.8 71.3,598.8 71.4,597.3 71.5,596.9 71.6,596.1 71.7,596.5 71.9,595.5 72.0,594.0 72.2,593.4 72.3,593.3 72.5,593.0 72.6,592.6 72.8,591.0 72.9,590.5 73.1,590.8 73.2,589.7 73.4,588.8 73.5,588.3 73.7,588.8 73.8,588.3 74.0,589.3 74.1,589.5 74.2,590.2 74.4,591.7 74.5,592.5 74.6,592.0 74.8,592.3 74.9,593.8 75.1,593.5 75.2,593.7 75.3,595.9 75.5,595.7 75.6,597.0 75.7,596.8 75.9,598.3 76.0,598.1 76.1,598.2 76.3,598.5 76.4,600.1 76.5,600.9 76.6,602.0 76.7,601.1 76.7,602.7 76.8,602.8 76.9,603.7 77.0,603.7 77.1,604.5 77.2,605.6 77.3,606.9 77.4,606.0 77.4,607.3 77.5,608.5 77.6,609.4 77.7,608.6 77.8,609.1 77.9,611.2 78.0,611.9 78.1,611.6 78.1,611.5 78.2,613.6 78.3,613.3 78.4,614.8 78.5,614.9 78.6,615.9 78.7,615.3 78.8,617.1 78.8,616.7 78.9,617.6 79.0,619.0 79.1,619.6 79.2,619.1 79.3,619.7 79.5,620.7 79.6,621.5 79.7,621.9 79.8,622.1 80.0,622.9 80.1,624.4 80.2,625.3 80.3,624.4 80.5,626.0 80.6,627.0 80.7,626.3 80.8,628.4 81.0,627.7 81.1,629.2 81.8,629.6 82.5,630.2 83.1,630.2 83.8,630.9 84.5,631.6 85.2,630.8 85.8,630.6 86.5,629.7 87.2,629.1 87.8,627.7 88.5,628.2 89.1,627.3 89.8,626.1 90.4,626.4 91.1,626.1 91.7,625.3 92.4,624.5 93.1,624.7 93.8,623.8 94.4,623.5 95.1,623.8 95.4,622.5 95.7,622.6 95.9,622.1 96.2,620.6 96.5,621.1 96.8,619.4 97.1,620.0 97.4,619.5 97.7,618.4 97.9,616.9 98.2,617.1 98.5,616.3 98.8,616.6 99.2,614.5 99.5,615.1 99.8,614.7 100.2,613.5 100.5,613.0 100.9,611.2 101.2,612.0 101.9,611.2 102.5,612.2 103.2,612.2 103.9,611.0 104.5,612.2 105.2,612.6 105.8,610.3 106.4,610.2 107.0,610.2 107.5,608.4 108.1,609.1 108.7,607.3 109.3,607.6 109.7,605.8 110.1,605.8 110.5,606.0 110.9,604.1 111.3,603.6 111.7,603.4 112.1,602.5 112.5,601.4 112.9,601.0 113.3,600.4 113.7,601.1 114.1,600.0 114.5,599.7 114.9,597.7 115.3,598.1 115.4,596.3 115.6,596.4 115.7,596.0 115.9,594.8 116.0,595.1 116.2,593.9 116.3,593.3 116.4,593.3 116.6,591.2 116.7,592.2 116.9,590.9 117.0,589.9 117.2,590.0 117.3,588.4 117.6,590.3 117.8,590.1 118.1,590.3 118.3,591.7 118.6,591.7 118.9,591.8 119.1,593.4 119.4,592.8 120.1,593.7 120.8,592.1 121.4,592.3 122.1,592.4 122.5,592.3 122.9,593.2 123.3,593.2 123.7,593.3 124.1,594.1 124.1,594.9 124.2,596.3 124.2,596.6 124.3,597.3 124.3,598.6 124.4,597.9 124.4,598.6 124.5,600.0 124.5,599.5 124.5,600.0 124.6,601.3 124.6,601.4 124.7,602.5 124.7,602.9 124.8,604.1 124.8,604.7 124.9,604.6 124.9,606.0 125.0,606.3 125.0,606.3 125.0,608.4 125.1,607.7 125.1,608.1 125.2,608.7 125.2,610.2 125.3,611.3 125.3,611.7 125.4,611.6 125.4,612.0 125.5,612.1 125.6,613.9 125.6,614.3 125.7,614.6 125.8,615.7 125.9,616.0 126.0,617.5 126.1,617.7 126.1,617.5 126.2,619.2 126.3,618.3 126.4,619.8 126.5,620.2 126.5,620.5 126.6,620.8 126.7,622.7 126.8,621.9 126.9,623.5 127.0,624.8 127.0,624.0 127.1,624.7 127.2,626.1 127.3,626.5 127.4,627.3 127.4,628.3 127.5,627.7 127.6,628.6 127.7,629.2 127.8,629.3 127.9,631.5 127.9,631.9 128.0,632.4 128.1,631.7 128.2,633.8 128.3,634.3 128.4,634.4 128.5,635.5 128.6,635.6 128.7,635.8 128.8,636.2 128.9,637.0 129.0,637.3 129.1,638.5 129.2,639.8 129.3,640.3 129.4,641.2 129.5,641.6 129.6,641.4 129.7,642.5 129.9,642.9 130.0,644.2 130.1,644.3 130.2,644.5 130.3,645.8 130.4,647.0 130.5,646.2 130.6,648.0 130.7,647.1 130.8,648.2 130.9,648.7 131.0,650.3 131.1,651.2 131.2,651.5 131.3,651.4 131.4,653.0 131.5,652.6 131.6,653.0 131.8,654.9 131.9,655.0 132.1,655.7 132.2,656.3 132.3,657.5 132.5,657.2 132.6,658.4 132.8,658.8 132.9,659.7 133.1,659.6 133.2,660.3" fill="none" stroke="#4ad04a" stroke-width="1.1" stroke-linejoin="round"/>
<polyline points="47.0,661.2 47.6,660.9 48.2,660.7 48.9,660.8 49.5,660.2 50.1,659.5 50.8,659.0 51.4,659.5 52.0,658.2 52.5,659.1 53.1,657.1 53.6,656.3 54.2,655.9 54.8,656.7 55.3,655.1 55.9,654.1 56.4,653.3 57.0,652.7 57.5,653.2 57.6,652.5 57.8,652.0 57.9,651.5 58.0,649.7 58.2,650.0 58.3,649.0 58.4,649.2 58.6,648.6 58.7,648.1 58.8,646.0 59.0,646.9 59.1,646.3 59.2,645.8 59.4,643.7 59.5,643.2 59.6,642.4 59.7,641.7 59.9,642.6 60.0,641.9 60.1,640.9 60.3,640.7 60.4,639.7 60.5,638.5 60.7,637.5 60.8,636.9 60.9,637.5 61.1,635.9 61.2,635.5 61.3,635.1 61.5,633.7 61.6,633.6 61.7,633.0 61.7,633.2 61.8,632.0 61.9,631.3 61.9,631.8 62.0,630.4 62.1,630.4 62.2,629.4 62.2,627.7 62.3,627.8 62.4,627.2 62.4,627.3 62.5,625.9 62.6,625.9 62.6,625.0 62.7,623.8 62.8,624.4 62.8,622.4 62.9,623.1 63.0,621.3 63.0,620.4 63.1,620.2 63.2,620.6 63.3,620.4 63.3,618.0 63.4,618.3 63.5,617.7 63.5,617.6 63.6,615.9 63.7,615.9 63.9,615.0 64.0,615.2 64.1,613.5 64.3,614.1 64.4,612.3 64.5,611.6 64.7,611.8 64.8,610.8 64.9,609.5 65.1,609.8 65.2,608.1 65.3,608.8 65.5,608.0 65.6,607.5 65.9,607.9 66.3,608.1 66.6,608.8 66.9,609.5 67.3,611.0 67.6,610.3 67.7,611.1 67.9,608.9 68.0,608.7 68.1,608.2 68.3,608.7 68.4,607.4 68.5,606.6 68.7,606.9 68.8,605.1 68.9,604.9 69.1,604.5 69.2,604.3 69.4,603.7 69.5,602.9 69.6,601.7 69.8,601.1 69.9,600.2 70.0,600.8 70.2,599.9 70.3,599.4 70.5,597.8 70.7,597.7 70.8,597.7 71.0,596.7 71.2,595.3 71.4,595.3 71.6,595.5 71.7,593.7 71.9,593.0 72.1,592.6 72.3,592.7 72.4,592.4 72.6,590.5 72.8,589.9 73.0,589.5 73.2,589.0 73.3,588.8 73.5,587.5 73.7,587.2 73.8,587.6 74.0,589.6 74.1,589.8 74.2,589.3 74.4,591.5 74.5,590.5 74.6,591.7 74.8,593.4 74.9,593.7 75.1,594.2 75.2,594.3 75.3,594.5 75.5,595.9 75.6,595.5 75.7,596.3 75.9,597.3 76.0,597.3 76.1,598.6 76.3,599.9 76.4,600.3 76.5,600.6 76.6,601.5 76.7,601.8 76.7,601.8 76.8,603.3 76.9,603.5 77.0,604.7 77.1,605.6 77.2,605.4 77.3,606.3 77.4,607.2 77.4,607.2 77.5,607.5 77.6,609.0 77.7,609.9 77.8,610.3 77.9,610.8 78.0,611.7 78.1,612.0 78.1,612.5 78.2,612.8 78.3,613.1 78.4,614.3 78.5,614.0 78.6,615.2 78.7,616.4 78.8,616.9 78.8,617.4 78.9,617.3 79.0,618.2 79.1,618.9 79.2,619.8 79.3,620.1 79.5,621.2 79.6,622.3 79.7,621.6 79.8,623.0 80.0,623.9 80.1,623.8 80.2,624.6 80.3,626.1 80.5,625.0 80.6,626.6 80.7,626.5 80.8,628.3 81.0,629.2 81.1,629.0 81.8,628.9 82.5,630.3 83.1,630.9 83.8,631.8 84.5,632.0 85.2,632.1 85.8,632.3 86.5,631.5 87.2,631.2 87.8,632.0 88.5,630.5 89.2,630.8 89.9,629.8 90.5,630.0 91.2,628.3 91.9,629.4 92.6,627.7 93.2,627.0 93.8,627.2 94.5,627.3 95.1,626.4 95.5,626.5 96.0,625.9 96.4,625.8 96.8,624.6 97.2,623.8 97.7,623.1 98.1,623.4 98.5,623.1 98.9,621.8 99.4,620.6 99.8,621.0 100.4,620.6 101.0,620.6 101.6,620.7 102.2,622.2 102.8,622.6 103.4,622.5 104.0,622.5 104.6,623.0 105.2,622.7 105.9,623.4 106.5,621.8 107.2,621.7 107.9,621.4 108.6,620.8 109.2,619.6 109.9,618.7 110.6,618.6 111.2,617.3 111.8,618.1 112.4,616.8 113.0,617.2 113.6,615.6 114.3,615.3 114.9,614.6 115.5,614.4 116.1,613.5 116.7,612.7 117.3,613.5 118.0,612.9 118.7,613.0 119.3,613.3 120.0,613.8 120.2,614.3 120.3,615.3 120.5,615.9 120.7,616.0 120.9,617.7 121.0,618.1 121.2,617.3 121.4,619.3 121.5,620.1 121.7,620.5 121.9,619.9 122.0,621.8 122.2,622.1 122.4,621.6 122.6,622.2 122.7,624.5 122.9,624.6 123.1,624.5 123.2,624.8 123.4,625.5 123.6,626.3 123.8,627.9 123.9,627.7 124.1,628.0 124.3,630.0 124.4,630.4 124.6,629.9 124.7,631.8 124.9,631.9 125.0,632.8 125.2,633.3 125.3,634.3 125.5,634.7 125.6,635.4 125.8,634.9 125.9,636.4 126.1,636.8 126.3,637.8 126.4,637.8 126.6,639.3 126.7,639.3 126.9,639.4 127.0,640.0 127.2,640.4 127.3,641.7 127.5,641.5 127.6,642.9 127.8,642.9 127.9,644.2 128.1,644.8 128.3,645.5 128.5,646.7 128.7,645.8 128.8,647.9 129.0,647.8 129.2,648.6 129.4,649.4 129.6,650.3 129.8,650.1 130.0,650.8 130.1,652.4 130.3,651.4 130.5,653.0 130.7,653.6 130.9,653.2 131.1,654.8 131.3,655.6 131.5,656.6 131.6,656.2 131.8,657.9 132.0,657.7 132.2,658.3 132.5,659.7 132.8,658.8 133.0,660.7 133.3,661.0" fill="none" stroke="#5fe0e8" stroke-width="1.1" stroke-linejoin="round"/>
<polyline points="47.0,661.2 47.6,661.1 48.2,660.9 48.9,660.8 49.5,660.6 50.1,660.5 50.8,660.5 51.4,659.9 52.0,660.7 52.6,659.4 53.2,659.3 53.8,659.0 54.4,659.1 55.1,657.8 55.7,657.8 56.3,657.4 56.9,657.3 57.5,657.5 57.7,655.9 57.8,656.3 58.0,654.9 58.1,654.5 58.3,653.5 58.5,653.3 58.6,653.5 58.8,652.4 59.0,652.0 59.1,650.6 59.3,649.9 59.4,649.3 59.6,649.2 59.8,648.7 59.9,648.4 60.1,646.4 60.3,647.0 60.4,646.7 60.6,645.5 60.7,644.0 60.9,643.9 61.1,642.7 61.2,642.5 61.4,643.2 61.6,642.0 61.7,641.5 61.9,641.1 62.0,640.7 62.2,639.6 62.4,639.0 62.5,638.4 62.7,637.9 62.8,637.1 63.0,636.7 63.1,635.2 63.3,635.4 63.4,634.4 63.6,634.4 63.7,632.5 63.9,632.1 64.1,631.2 64.2,631.9 64.4,631.6 64.5,630.5 64.7,629.3 64.8,629.5 65.0,628.9 65.1,627.9 65.3,626.7 65.4,626.2 65.6,625.8 65.7,625.0 65.9,624.5 66.0,624.3 66.2,624.2 66.3,622.0 66.4,622.3 66.6,620.8 66.7,620.3 66.9,620.9 67.0,619.9 67.2,619.9 67.3,618.4 67.4,617.0 67.6,617.1 67.7,616.8 67.9,616.8 68.0,616.3 68.2,614.8 68.3,614.0 68.4,612.9 68.6,613.2 68.7,611.8 68.9,611.1 69.0,610.2 69.1,609.6 69.2,610.2 69.3,608.6 69.4,609.5 69.5,607.4 69.6,608.2 69.7,606.2 69.8,605.4 69.9,606.1 70.0,604.6 70.1,604.9 70.2,603.3 70.3,602.5 70.4,603.2 70.5,602.5 70.6,602.1 70.7,601.3 70.8,599.6 70.9,599.9 71.0,599.5 71.1,598.4 71.2,598.7 71.3,596.9 71.4,597.5 71.5,596.5 71.6,594.6 71.7,594.0 71.8,594.5 72.0,594.2 72.1,592.3 72.3,592.1 72.4,592.2 72.6,590.6 72.7,591.2 72.8,589.9 73.0,588.5 73.1,588.4 73.3,588.2 73.4,587.3 73.6,587.1 73.7,585.6 73.8,587.3 74.0,587.2 74.1,588.3 74.2,588.9 74.3,589.1 74.5,589.7 74.6,591.0 74.7,591.9 74.9,592.2 75.0,592.4 75.1,592.5 75.2,592.7 75.4,595.0 75.5,595.1 75.6,595.9 75.8,595.7 75.9,596.8 76.0,598.0 76.1,598.4 76.3,598.6 76.4,598.7 76.5,599.5 76.6,600.9 76.6,600.6 76.7,601.8 76.8,602.2 76.9,603.4 77.0,603.8 77.1,603.5 77.1,603.6 77.2,604.7 77.3,605.6 77.4,606.5 77.5,607.5 77.5,608.3 77.6,607.4 77.7,609.4 77.8,610.0 77.9,610.7 78.0,610.8 78.0,610.8 78.1,612.5 78.2,613.0 78.3,613.4 78.4,614.4 78.4,614.0 78.5,614.2 78.6,615.6 78.7,616.7 78.8,616.2 78.9,617.8 78.9,618.8 79.0,618.1 79.1,619.4 79.2,620.1 79.3,620.3 79.4,620.5 79.5,621.2 79.6,622.7 79.7,623.4 79.8,623.4 79.9,623.3 80.0,625.2 80.1,625.7 80.2,625.4 80.3,626.6 80.4,627.8 80.5,628.4 80.6,628.3 80.7,628.8 80.8,629.6 80.9,629.5 81.0,630.1 81.1,630.7 81.8,632.2 82.5,632.1 83.1,633.0 83.8,633.3 84.5,634.0 85.2,633.1 85.8,632.7 86.5,634.2 87.2,632.8 87.8,632.1 88.5,632.8 89.2,632.5 89.9,630.6 90.5,630.8 91.2,629.7 91.9,629.3 92.6,627.7 93.2,627.1 93.8,628.1 94.5,627.2 95.1,625.9 95.4,625.4 95.7,624.2 96.0,624.5 96.4,623.3 96.7,623.6 97.0,622.6 97.3,622.1 97.6,621.7 97.9,619.8 98.2,618.8 98.5,618.5 98.9,617.8 99.2,617.0 99.5,616.3 99.8,616.6 100.3,617.8 100.8,617.8 101.3,619.3 101.8,619.9 102.5,617.9 103.2,618.4 103.9,617.6 104.5,616.6 105.2,617.6 105.9,615.8 106.6,615.9 107.3,616.7 107.9,618.0 108.6,618.1 109.3,618.3 109.5,617.8 109.8,616.7 110.0,617.5 110.3,616.9 110.5,615.0 110.8,614.0 111.0,613.8 111.3,613.4 111.5,613.7 111.8,613.1 112.0,612.4 112.7,610.3 113.3,610.9 114.0,610.1 114.4,609.3 114.8,609.2 115.2,606.9 115.5,606.4 115.9,606.8 116.3,606.5 116.7,605.3 117.0,605.2 117.4,606.4 117.7,607.3 118.0,606.7 118.3,607.7 118.7,608.2 119.0,608.6 119.3,609.8 119.7,609.9 120.0,610.6 120.1,611.1 120.3,612.7 120.4,612.1 120.6,614.0 120.7,613.6 120.8,614.0 121.0,616.2 121.1,615.5 121.3,617.4 121.4,617.9 121.6,618.6 121.7,617.9 121.8,619.0 122.0,619.0 122.1,621.1 122.3,621.6 122.4,621.8 122.6,622.1 122.7,622.5 122.8,624.0 123.0,624.0 123.1,624.9 123.3,624.6 123.4,625.4 123.6,625.7 123.7,627.5 123.9,627.8 124.0,627.7 124.2,629.6 124.3,629.2 124.5,630.0 124.6,630.2 124.8,631.0 124.9,632.6 125.1,632.4 125.3,632.7 125.4,633.9 125.6,634.2 125.7,635.8 125.9,635.0 126.0,637.2 126.2,636.1 126.3,638.3 126.5,638.5 126.6,638.3 126.8,639.4 127.0,639.6 127.1,640.2 127.3,640.7 127.5,641.6 127.6,643.4 127.8,644.0 128.0,644.5 128.1,643.6 128.3,644.6 128.5,646.3 128.6,645.4 128.8,647.2 129.0,647.0 129.1,648.9 129.3,647.8 129.5,649.8 129.6,649.6 129.8,649.9 130.0,650.2 130.1,652.3 130.3,652.4 130.5,652.4 130.6,653.5 130.8,654.9 131.1,654.4 131.3,655.7 131.6,655.6 131.8,656.3 132.1,658.1 132.3,658.6 132.6,658.4 132.8,658.8 133.1,659.6 133.3,661.0" fill="none" stroke="#3a3ac8" stroke-width="1.1" stroke-linejoin="round"/>
<polyline points="47.0,661.2 47.6,660.6 48.1,660.2 48.7,659.3 49.3,658.3 49.8,657.6 50.4,657.7 51.0,657.2 51.5,656.8 52.1,655.7 52.5,654.4 52.8,653.6 53.2,654.1 53.5,652.9 53.9,652.8 54.3,651.0 54.6,651.7 55.0,650.2 55.3,650.5 55.7,649.9 56.1,648.6 56.4,647.1 56.8,648.1 57.1,646.7 57.5,646.8 57.7,645.1 58.0,644.3 58.2,644.9 58.4,643.5 58.6,642.5 58.9,642.3 59.1,642.1 59.3,640.4 59.5,640.7 59.8,640.0 60.0,639.5 60.2,638.2 60.5,638.7 60.7,638.3 60.9,637.8 61.1,636.2 61.4,636.3 61.6,635.1 61.8,635.1 61.9,633.3 62.1,634.2 62.3,633.7 62.4,632.3 62.6,631.7 62.8,631.1 62.9,630.5 63.1,629.0 63.2,630.1 63.4,628.1 63.6,627.5 63.7,626.7 63.9,626.4 64.1,626.8 64.2,624.8 64.4,624.3 64.6,624.8 64.7,623.3 64.9,622.3 65.0,622.8 65.1,622.1 65.2,621.4 65.3,621.2 65.4,619.5 65.5,620.3 65.6,619.4 65.7,617.6 65.8,617.1 65.9,617.2 66.0,616.6 66.1,615.6 66.2,614.7 66.3,614.6 66.4,613.5 66.5,613.8 66.6,613.6 66.7,611.8 66.8,611.9 66.9,611.6 67.0,610.0 67.1,610.6 67.2,610.2 67.3,608.6 67.4,608.1 67.5,608.2 67.6,607.0 67.7,606.2 67.7,606.6 67.8,605.6 67.8,604.2 67.9,603.4 67.9,603.0 68.0,602.6 68.1,602.9 68.1,602.0 68.2,601.6 68.2,600.8 68.3,600.2 68.4,598.2 68.4,598.4 68.5,598.6 68.5,597.9 68.6,596.1 68.7,595.8 68.7,595.5 68.8,594.4 68.8,594.1 68.9,592.7 68.9,592.7 69.0,592.2 69.2,590.7 69.4,590.2 69.5,591.0 69.7,590.0 69.9,589.6 70.7,589.7 71.5,590.8 72.3,591.6 72.7,590.9 73.0,588.7 73.3,589.1 73.7,587.7 74.1,587.8 74.4,586.4 74.5,587.5 74.6,588.8 74.7,588.8 74.8,588.8 74.9,589.9 75.0,590.3 75.1,591.9 75.2,591.3 75.3,591.9 75.4,593.2 75.5,592.8 75.6,594.3 75.7,595.6 75.8,595.4 75.9,595.5 76.0,596.5 76.1,597.2 76.2,597.1 76.3,597.7 76.4,598.3 76.5,599.2 76.6,600.0 76.7,600.4 76.8,601.0 76.9,601.3 76.9,602.7 77.0,603.9 77.1,604.1 77.2,604.6 77.3,605.4 77.4,605.2 77.5,606.7 77.6,606.8 77.7,607.6 77.8,608.3 77.9,608.7 77.9,609.0 78.0,609.5 78.1,610.1 78.2,611.2 78.3,611.6 78.4,612.6 78.5,612.1 78.5,613.3 78.6,614.9 78.7,614.3 78.8,615.5 78.8,616.0 78.9,616.2 79.0,618.1 79.1,617.4 79.1,618.9 79.2,618.4 79.3,618.8 79.4,620.9 79.4,620.7 79.5,620.6 79.6,621.8 79.7,622.5 79.7,623.6 79.8,623.1 79.9,623.9 80.0,625.8 80.0,626.0 80.1,625.6 80.2,626.5 80.3,627.1 80.3,628.3 80.4,628.8 80.6,629.8 80.9,630.4 81.1,630.5 81.4,631.5 81.6,632.1 81.9,632.7 82.1,632.8 82.4,634.0 82.6,634.5 82.9,635.4 83.1,634.6 83.8,636.6 84.4,635.6 85.1,637.5 85.8,637.8 86.5,638.2 87.1,639.6 87.8,639.5 88.4,639.3 89.0,639.9 89.7,639.4 90.3,638.2 91.0,637.2 91.7,636.6 92.1,636.0 92.5,635.9 92.9,634.5 93.3,634.1 93.8,633.7 94.2,632.8 94.6,632.1 95.0,632.3 95.4,631.8 95.8,630.6 96.5,630.6 97.1,630.3 97.8,630.6 98.5,630.4 99.1,631.3 99.8,631.4 100.4,630.9 101.0,632.7 101.6,631.9 102.2,633.1 102.8,633.4 103.4,633.9 104.0,632.9 104.6,633.6 105.2,634.7 105.9,633.8 106.6,634.5 107.2,636.1 107.9,636.7 108.6,638.1 109.3,638.5 110.0,638.8 110.6,640.3 111.3,640.1 112.0,640.8 112.6,641.8 113.3,641.9 113.8,642.5 114.3,643.6 114.8,643.9 115.3,645.6 115.8,645.8 116.3,646.2 116.8,646.1 117.3,647.3 117.8,648.0 118.3,649.0 118.8,649.7 119.3,650.9 119.9,651.7 120.4,651.5 120.9,652.1 121.4,653.1 121.9,654.5 122.4,654.0 122.9,655.0 123.4,656.2 123.9,655.7 124.4,656.6 124.9,658.5 125.4,658.9 126.1,658.8 126.8,658.5 127.5,660.4 128.1,660.4 128.8,660.5 129.5,661.0 130.2,661.0 130.9,661.1 131.6,661.1 132.3,661.2 133.0,661.2" fill="none" stroke="#d23a3a" stroke-width="1.1" stroke-linejoin="round"/>
<polyline points="46.1,606.3 46.1,607.2 46.2,607.6 46.2,607.4 46.3,607.5 46.3,608.4 46.3,609.4 46.4,610.0 46.4,610.0 46.5,610.6 46.5,612.1 46.5,612.6 46.6,612.8 46.6,614.5 46.7,614.5 46.7,614.1 46.7,615.3 46.8,616.6 46.8,616.4 46.8,617.7 46.9,617.0 46.9,618.2 47.0,619.8 47.0,619.9 47.0,620.7 47.1,620.5 47.1,621.6 47.2,622.3 47.2,622.4 47.2,623.7 47.3,624.1 47.3,625.6 47.4,625.4 47.4,625.7 47.5,624.6 47.5,624.1 47.6,624.6 47.6,622.8 47.7,622.2 47.8,621.7 47.8,621.7 47.9,621.6 48.0,620.7 48.0,620.4 48.1,618.5 48.1,617.8 48.2,618.5 48.3,617.1 48.3,617.2 48.4,615.9 48.4,615.0 48.5,614.6 48.6,613.7 48.6,614.5 48.7,613.3 48.7,612.2 48.8,611.8 48.9,611.1 48.9,609.9 49.0,610.7 49.0,609.6 49.1,609.6 49.2,608.1 49.2,607.8 49.3,606.5 49.3,605.5 49.4,606.5 49.5,605.7 49.5,604.1 49.6,604.6 49.7,603.8 49.7,602.3 49.8,602.2 49.8,602.2 49.9,600.8 50.0,601.0 50.0,599.1 50.1,598.8 50.2,598.7 50.2,597.2 50.3,596.8 50.4,597.2 50.4,595.9 50.5,595.8 50.5,594.2 50.6,593.5 50.7,593.2 50.7,592.2 50.8,593.0 51.0,591.2 51.3,591.0 51.5,589.5 51.7,589.6 51.9,588.6 52.2,588.0 52.4,586.7 52.5,587.5 52.7,589.3 52.8,589.1 52.9,589.6 53.0,590.1 53.2,590.9 53.3,591.4 53.4,591.7 53.6,593.5 53.7,593.5 53.8,593.8 53.9,595.4 54.1,594.9 54.2,595.9 54.3,597.5 54.3,596.8 54.4,598.0 54.5,599.3 54.5,599.9 54.6,599.3 54.7,600.3 54.7,601.6 54.8,601.5 54.8,603.2 54.9,602.4 55.0,604.4 55.0,604.2 55.1,604.3 55.2,605.3 55.2,605.3 55.3,607.0 55.4,606.8 55.4,608.5 55.5,608.6 55.6,608.8 55.6,609.2 55.7,610.4 55.7,610.3 55.8,612.1 55.9,611.4 55.9,612.7 56.0,613.4 56.1,613.5 56.1,615.0 56.2,614.9 56.3,616.0 56.4,616.4 56.5,616.6 56.6,617.3 56.7,617.4 56.8,618.1 56.9,620.0 56.9,619.6 57.0,620.8 57.1,620.4 57.2,621.8 57.3,622.1 57.4,622.9 57.5,623.2 57.6,623.4 57.7,624.4 57.8,624.9 57.9,625.3 58.0,627.0 58.1,626.8 58.2,627.6 58.2,629.1 58.3,629.5 58.4,630.3 58.5,630.8 58.6,630.1 58.7,631.0 58.8,631.1 58.9,632.9 59.1,633.5 59.2,633.6 59.4,634.3 59.5,635.4 59.7,636.1 59.9,636.0 60.0,637.7 60.2,637.4 60.3,638.5 60.5,638.4 60.6,638.9 60.8,641.0 61.0,641.3 61.1,641.9 61.3,641.3 61.4,641.9 61.6,642.8 61.9,643.5 62.1,644.3 62.4,645.1 62.7,645.1 62.9,646.2 63.2,647.4 63.5,647.3 63.7,649.1 64.0,649.2 64.3,650.1 64.5,649.9 64.8,650.9 65.1,652.0 65.3,652.0 65.6,652.0 66.1,654.1 66.6,654.6 67.1,654.3 67.6,654.5 68.1,656.6 68.5,656.7 69.0,656.3 69.5,657.3 70.0,657.7 70.5,659.5 71.0,659.1 71.6,660.5 72.2,660.4 72.8,659.4 73.4,660.7 74.0,660.5 74.6,660.7 75.2,660.8 75.8,661.0 76.4,661.2 77.0,661.2 77.6,661.2 78.2,661.2 78.8,661.2 79.4,661.2 80.0,661.2 80.6,661.2 81.2,661.2 81.8,661.2 82.4,661.2 83.0,661.2 83.6,661.2 84.2,661.2 84.8,661.2 85.4,661.2 86.0,661.2 86.6,661.2 87.2,661.2 87.8,661.2 88.4,661.2 89.0,661.2 89.6,661.2 90.2,661.2 90.9,661.2 91.5,661.2 92.1,661.2 92.7,661.2 93.3,661.2 93.9,661.2 94.5,661.2 95.1,661.2 95.7,661.2 96.3,661.2 96.9,661.2 97.5,661.2 98.1,661.2 98.7,661.2 99.3,661.2 99.9,661.2 100.5,661.2 101.1,661.2 101.7,661.2 102.3,661.2 102.9,661.2 103.5,661.2 104.1,661.2 104.7,661.2 105.3,661.2 105.9,661.2 106.5,661.2 107.1,661.2 107.7,661.2 108.3,661.2 108.9,661.2 109.5,661.2 110.1,661.2 110.7,661.2 111.3,661.2 111.9,661.2 112.5,661.2 113.1,661.2 113.7,661.2 114.3,661.2 114.9,661.2 115.5,661.2 116.1,661.2 116.7,661.2 117.3,661.2 117.9,661.2 118.5,661.2 119.2,661.2 119.8,661.2 120.4,661.2 121.0,661.2 121.6,661.2 122.2,661.2 122.8,661.2 123.4,661.2 124.0,661.2 124.6,661.2 125.2,661.2 125.8,661.2 126.4,661.2 127.0,661.2 127.6,661.2 128.2,661.2 128.8,661.2 129.4,661.2 130.0,661.2 130.6,661.2 131.2,661.2 131.8,661.2 132.4,661.2 133.0,661.2" fill="none" stroke="#222" stroke-width="1.1" stroke-linejoin="round"/>
<line x1="133.9" y1="580" x2="151.5" y2="580" stroke="#000" stroke-width="3.2"/>
<line x1="133.9" y1="595.5" x2="151.5" y2="595.5" stroke="#33dd33" stroke-width="3.2"/>
<line x1="133.9" y1="610.3" x2="151.5" y2="610.3" stroke="#dd1122" stroke-width="3.2"/>
<line x1="133.9" y1="625.7" x2="151.5" y2="625.7" stroke="#1010bb" stroke-width="3.2"/>
<line x1="133.9" y1="641.3" x2="151.5" y2="641.3" stroke="#33dddd" stroke-width="3.2"/>
<text stroke="#000" stroke-width="0.2" x="155.3" y="582.9" font-size="8.15" font-weight="bold" text-anchor="start" fill="#000">Control</text>
<text stroke="#000" stroke-width="0.2" x="155.3" y="598.4" font-size="8.15" font-weight="bold" text-anchor="start" fill="#000">WT untreated</text>
<text stroke="#000" stroke-width="0.2" x="155.3" y="613.1999999999999" font-size="8.15" font-weight="bold" text-anchor="start" fill="#000">WT IL-4-treated</text>
<text stroke="#000" stroke-width="0.2" x="155.3" y="628.6" font-size="8.15" font-weight="bold" text-anchor="start" fill="#000">IL-4RKO untreated</text>
<text stroke="#000" stroke-width="0.2" x="155.3" y="644.1999999999999" font-size="8.15" font-weight="bold" text-anchor="start" fill="#000">IL-4RKO IL-4-treated</text>
<text stroke="#000" stroke-width="0.2" x="25.4" y="624.3" font-size="9.85" font-weight="bold" text-anchor="middle" transform="rotate(-90 25.4 624.3) translate(0 3.5)">Number of events</text>
<text stroke="#000" stroke-width="0.2" x="87.3" y="682.6" font-size="10.4" font-weight="bold" text-anchor="middle">RdGnX-<tspan font-style="italic">N.m.</tspan></text>
<rect x="332.8" y="580" width="34.7" height="116.20000000000005" fill="#000" stroke="none" stroke-width="0"/>
<line x1="350.3" y1="580" x2="350.3" y2="569.3" stroke="#000" stroke-width="2.0"/>
<line x1="345.6" y1="569.3" x2="354.6" y2="569.3" stroke="#000" stroke-width="2.0"/>
<rect x="367.5" y="643.4" width="33.3" height="52.80000000000007" fill="#fff" stroke="#000" stroke-width="1.6"/>
<line x1="384.1" y1="643.4" x2="384.1" y2="635.0" stroke="#000" stroke-width="2.0"/>
<line x1="379.2" y1="635.0" x2="388.6" y2="635.0" stroke="#000" stroke-width="2.0"/>
<rect x="434.1" y="602.3" width="34.6" height="93.90000000000009" fill="#000" stroke="none" stroke-width="0"/>
<line x1="451.5" y1="602.3" x2="451.5" y2="593.4" stroke="#000" stroke-width="2.0"/>
<line x1="447" y1="593.4" x2="456.5" y2="593.4" stroke="#000" stroke-width="2.0"/>
<rect x="468.7" y="609.6" width="33.3" height="86.60000000000002" fill="#fff" stroke="#000" stroke-width="1.6"/>
<line x1="485.6" y1="609.6" x2="485.6" y2="601.5" stroke="#000" stroke-width="2.0"/>
<line x1="481" y1="601.5" x2="490.3" y2="601.5" stroke="#000" stroke-width="2.0"/>
<line x1="316.2" y1="548.5" x2="316.2" y2="697" stroke="#000" stroke-width="1.7"/>
<line x1="312.1" y1="696.2" x2="520" y2="696.2" stroke="#000" stroke-width="1.7"/>
<line x1="312.1" y1="696.2" x2="316.2" y2="696.2" stroke="#000" stroke-width="1.7"/>
<text stroke="#000" stroke-width="0.2" x="301.1" y="699.0" font-size="7.7" font-weight="bold" text-anchor="middle" fill="#000">0</text>
<line x1="312.1" y1="659.45" x2="316.2" y2="659.45" stroke="#000" stroke-width="1.7"/>
<text stroke="#000" stroke-width="0.2" x="303.1" y="662.85" font-size="7.7" font-weight="bold" text-anchor="middle" fill="#000">200</text>
<line x1="312.1" y1="622.7" x2="316.2" y2="622.7" stroke="#000" stroke-width="1.7"/>
<text stroke="#000" stroke-width="0.2" x="303.1" y="626.1" font-size="7.7" font-weight="bold" text-anchor="middle" fill="#000">400</text>
<line x1="312.1" y1="585.95" x2="316.2" y2="585.95" stroke="#000" stroke-width="1.7"/>
<text stroke="#000" stroke-width="0.2" x="303.1" y="589.35" font-size="7.7" font-weight="bold" text-anchor="middle" fill="#000">600</text>
<line x1="312.1" y1="549.2" x2="316.2" y2="549.2" stroke="#000" stroke-width="1.7"/>
<text stroke="#000" stroke-width="0.2" x="303.1" y="552.6" font-size="7.7" font-weight="bold" text-anchor="middle" fill="#000">800</text>
<line x1="367.5" y1="696.2" x2="367.5" y2="699.4" stroke="#000" stroke-width="1.6"/>
<line x1="468.7" y1="696.2" x2="468.7" y2="699.4" stroke="#000" stroke-width="1.6"/>
<line x1="351.5" y1="549.2" x2="380.8" y2="549.2" stroke="#000" stroke-width="1.9"/>
<line x1="454.6" y1="549.2" x2="483.6" y2="549.2" stroke="#000" stroke-width="1.9"/>
<text stroke="#000" stroke-width="0.2" x="365.6" y="542.2" font-size="11.5" font-weight="bold" text-anchor="middle" fill="#000">**</text>
<text stroke="#000" stroke-width="0.2" x="467" y="541.3" font-size="8.6" font-weight="normal" text-anchor="middle" fill="#000">ns</text>
<text stroke="#000" stroke-width="0.2" x="367.4" y="711" font-size="10" font-weight="bold" text-anchor="middle" fill="#000">WT</text>
<text stroke="#000" stroke-width="0.2" x="450.6" y="712.4" font-size="10" font-weight="bold">IL-4R&#945;<tspan font-size="6" dy="-4">-/-</tspan></text>
<text stroke="#000" stroke-width="0.2" x="289.0" y="619.2" font-size="10" font-weight="bold" text-anchor="middle" transform="rotate(-90 289.0 619.2)">RdGnX-<tspan font-style="italic">N.m.</tspan> uptake (mean)</text>
</svg>
</body></html>
